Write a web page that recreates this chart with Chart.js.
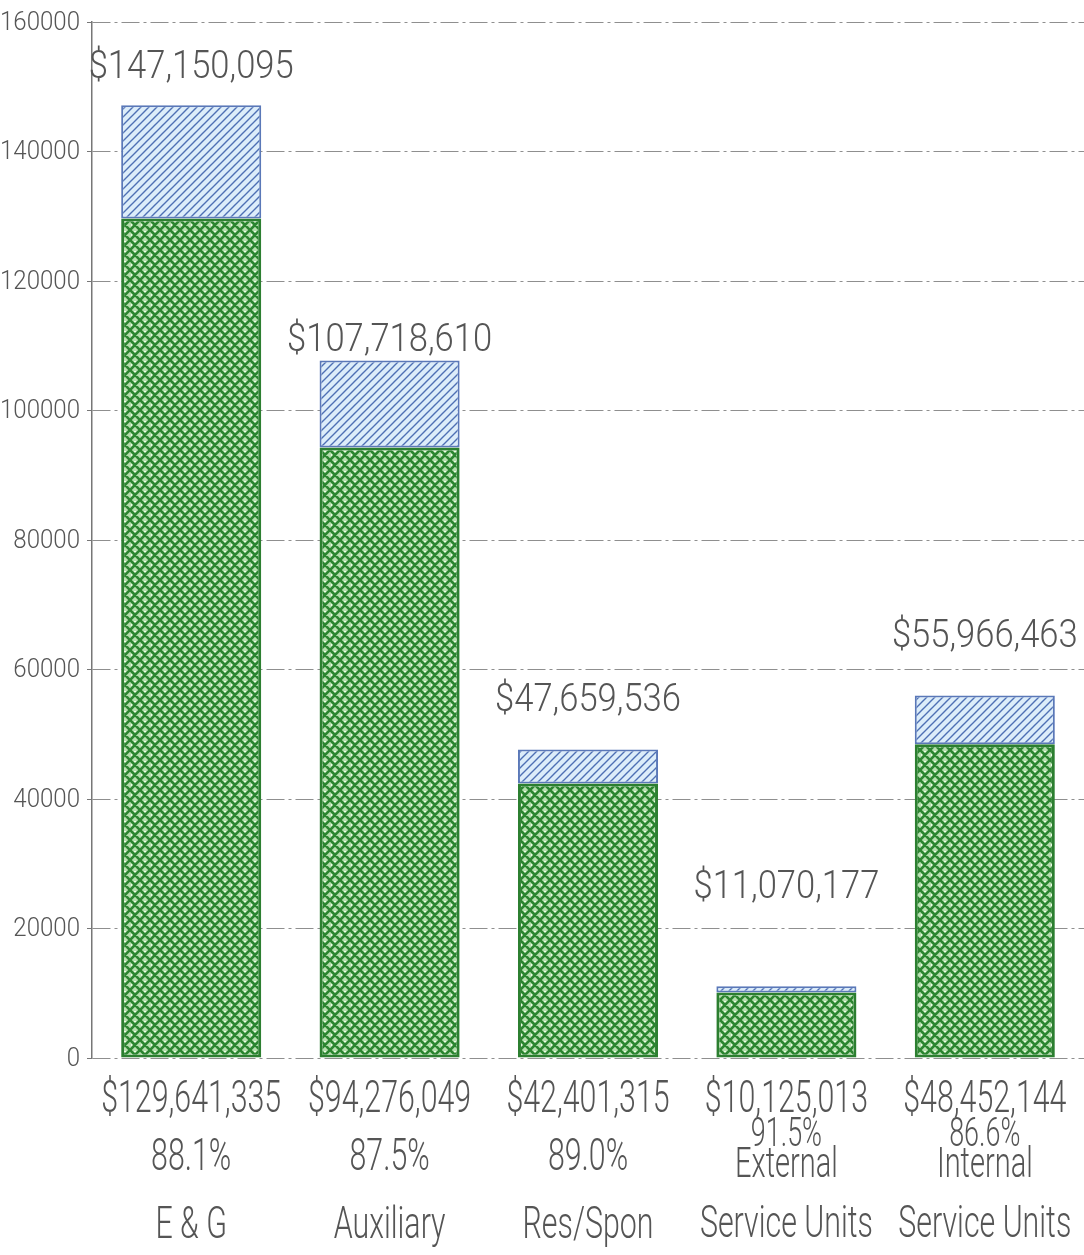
<!DOCTYPE html>
<html>
<head>
<meta charset="utf-8">
<script src="https://cdn.jsdelivr.net/npm/chart.js@4/dist/chart.umd.min.js"></script>
<style>
  html, body { margin: 0; padding: 0; background: #fff; }
  #wrap { width: 1084px; height: 1255px; }
</style>
</head>
<body>
<div id="wrap"><canvas id="c"></canvas></div>
<script>
// budget by fund group, in dollars
const categories = [["E & G"], ["Auxiliary"], ["Res/Spon"], ["External", "Service Units"], ["Internal", "Service Units"]];
const totalBudget = [147150095, 107718610, 47659536, 11070177, 55966463];
const spentBudget = [129641335, 94276049, 42401315, 10125013, 48452144];
const spentPct = ["88.1%", "87.5%", "89.0%", "91.5%", "86.6%"];
const yTicks = [0, 20000, 40000, 60000, 80000, 100000, 120000, 140000, 160000];

// how far each total label sits above its bar (px)
const labelLift = [27, 10, 38, 88, 49];

const FONT = "Roboto, 'DejaVu Sans Condensed', sans-serif";
const TEXT = "#555";

const money = n => "$" + n.toLocaleString("en-US");

// axis is in thousands
const spentK = spentBudget.map(v => v / 1000);
const restK = totalBudget.map((v, i) => (v - spentBudget[i]) / 1000);

function greenTexture() {
  const c = document.createElement("canvas");
  c.width = 10; c.height = 10;
  const g = c.getContext("2d");
  g.fillStyle = "#b5dfae";
  g.fillRect(0, 0, 10, 10);
  g.strokeStyle = "#2b8530";
  g.lineWidth = 2.6;
  g.beginPath();
  g.moveTo(0, 10); g.lineTo(10, 0);
  g.moveTo(-5, 5); g.lineTo(5, -5);
  g.moveTo(5, 15); g.lineTo(15, 5);
  g.moveTo(0, 0); g.lineTo(10, 10);
  g.moveTo(-5, 5); g.lineTo(5, 15);
  g.moveTo(5, -5); g.lineTo(15, 5);
  g.stroke();
  g.fillStyle = "#eef9ea";
  g.fillRect(4, 1, 2, 1);
  g.fillRect(1, 4, 1, 2);
  return g.createPattern(c, "repeat");
}

function blueHatch() {
  const c = document.createElement("canvas");
  c.width = 8; c.height = 8;
  const g = c.getContext("2d");
  g.fillStyle = "#dcedfa";
  g.fillRect(0, 0, 8, 8);
  g.strokeStyle = "#4e70b4";
  g.lineWidth = 1.4;
  g.beginPath();
  g.moveTo(0, 8); g.lineTo(8, 0);
  g.moveTo(-4, 4); g.lineTo(4, -4);
  g.moveTo(4, 12); g.lineTo(12, 4);
  g.stroke();
  return g.createPattern(c, "repeat");
}

// condensed text: squeezed so that `sample` comes out `refWidth` wide
function drawText(ctx, str, x, y, size, sample, refWidth) {
  ctx.save();
  ctx.font = `300 ${size}px ${FONT}`;
  const sx = refWidth / ctx.measureText(sample).width;
  ctx.translate(x, y);
  ctx.scale(sx, 1);
  ctx.fillText(str, 0, 0);
  ctx.restore();
}

const AMT = "$000,000,000";

const barLabels = {
  id: "barLabels",
  afterDatasetsDraw(chart) {
    const { ctx, scales: { x, y } } = chart;
    ctx.save();
    ctx.fillStyle = TEXT;

    // y tick labels
    ctx.textAlign = "right";
    ctx.textBaseline = "middle";
    y.ticks.forEach(t => {
      drawText(ctx, String(t.value), 80, y.getPixelForValue(t.value) + 1, 26, "000000", 80);
    });

    ctx.textAlign = "center";
    ctx.textBaseline = "alphabetic";
    categories.forEach((name, i) => {
      const cx = x.getPixelForValue(i);
      const top = y.getPixelForValue(totalBudget[i] / 1000);
      drawText(ctx, money(totalBudget[i]), cx, top - labelLift[i], 39, AMT, 205);

      drawText(ctx, money(spentBudget[i]), cx, 1112, 45, AMT, 180);
      if (name.length === 1) {
        drawText(ctx, spentPct[i], cx, 1170, 45, AMT, 180);
        drawText(ctx, name[0], cx, 1238, 45, AMT, 180);
      } else {
        // two-line names: lines packed tighter
        drawText(ctx, spentPct[i], cx, 1146, 40, AMT, 160);
        drawText(ctx, name[0], cx, 1177, 43, AMT, 172);
        drawText(ctx, name[1], cx, 1237, 45, AMT, 180);
      }
    });
    ctx.restore();
  }
};

const ctx = document.getElementById("c").getContext("2d");

new Chart(ctx, {
  type: "bar",
  data: {
    labels: categories.map(c => c.join(" ")),
    datasets: [
      {
        data: spentK,
        backgroundColor: greenTexture(),
        borderColor: "#2c7f30",
        borderWidth: 3,
        borderSkipped: false,
        barPercentage: 0.706,
        categoryPercentage: 1,
      },
      {
        data: restK,
        backgroundColor: blueHatch(),
        borderColor: "#5a78b8",
        borderWidth: 2,
        borderSkipped: false,
        barPercentage: 0.706,
        categoryPercentage: 1,
      },
    ],
  },
  options: {
    responsive: true,
    maintainAspectRatio: false,
    animation: false,
    layout: { padding: { top: 22, bottom: 189, left: 0, right: 0 } },
    plugins: {
      legend: { display: false },
      tooltip: { enabled: false },
    },
    scales: {
      x: {
        stacked: true,
        ticks: { display: false },
        grid: { display: false },
        border: { display: false },
      },
      y: {
        stacked: true,
        min: 0,
        max: 160000,
        afterBuildTicks: s => { s.ticks = yTicks.map(v => ({ value: v })); },
        afterFit: s => { s.width = 92; },
        ticks: { display: false },
        grid: {
          color: "#8f8f8f",
          lineWidth: 1,
          tickLength: 5,
          tickColor: "#777",
        },
        border: { color: "#777", width: 1.5, dash: [18, 4, 3, 4] },
      },
    },
  },
  plugins: [barLabels],
});
</script>
</body>
</html>
